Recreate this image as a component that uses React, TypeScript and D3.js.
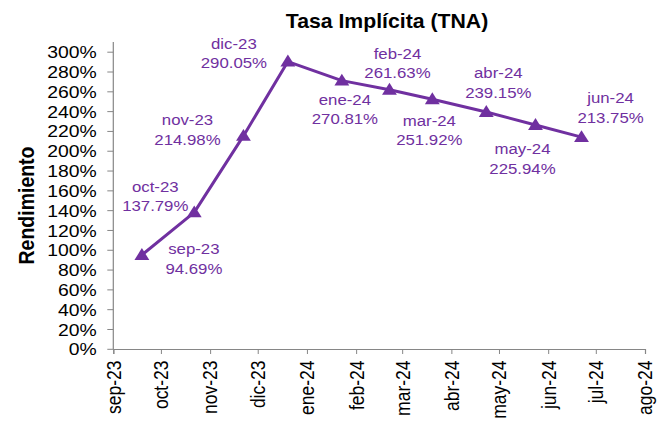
import * as d3 from 'd3';
import * as React from 'react';

// curve points (maturity date, implied rate in %)
const monthLabels = ['sep-23', 'oct-23', 'nov-23', 'dic-23', 'ene-24', 'feb-24', 'mar-24', 'abr-24', 'may-24', 'jun-24'];
const pointDates = ['2023-09-19', '2023-10-22', '2023-11-22', '2023-12-20', '2024-01-23', '2024-02-22', '2024-03-20', '2024-04-23', '2024-05-24', '2024-06-22'];
const rates = [94.69, 137.79, 214.98, 290.05, 270.81, 261.63, 251.92, 239.15, 225.94, 213.75];

const xTickLabels = ['sep-23', 'oct-23', 'nov-23', 'dic-23', 'ene-24', 'feb-24', 'mar-24', 'abr-24', 'may-24', 'jun-24', 'jul-24', 'ago-24'];
const yTicks = [0, 20, 40, 60, 80, 100, 120, 140, 160, 180, 200, 220, 240, 260, 280, 300];

// label offsets from each marker (dx, dy of first line)
const labelOffsets = [
  [52, -6], [-39, -26], [-56, -16], [-54, -18], [3, 19],
  [8, -36], [-3, 21], [12, -39], [-13, 24], [29, -39],
];

const PURPLE = '#7030a0';
const AXIS = '#868686';
const FONT = '"Liberation Sans", Arial, Helvetica, sans-serif';
const SX = 1.12; // text in the original is a bit wide

const App = () => {
  const ref = React.useRef<SVGSVGElement | null>(null);

  React.useEffect(() => {
    if (!ref.current) return;
    const svg = d3.select(ref.current);
    svg.selectAll('*').remove();

    const parse = d3.timeParse('%Y-%m-%d');
    const data = pointDates.map((d, i) => ({ date: parse(d) as Date, value: rates[i], label: monthLabels[i] }));

    const x = d3.scaleTime().domain([new Date(2023, 8, 1), new Date(2024, 7, 1)]).range([113.3, 645]);
    const y = d3.scaleLinear().domain([0, 300]).range([348.8, 51.7]);

    // title
    svg.append('text')
      .attr('transform', `translate(387,27.5) scale(1.09,1)`)
      .attr('text-anchor', 'middle')
      .style('font-family', FONT).style('font-weight', 'bold').style('font-size', '19.5px')
      .text('Tasa Implícita (TNA)');

    // y axis title
    svg.append('text')
      .attr('transform', `translate(33.5,205.5) scale(1.1,1) rotate(-90)`)
      .attr('text-anchor', 'middle')
      .style('font-family', FONT).style('font-weight', 'bold').style('font-size', '19.5px')
      .text('Rendimiento');

    const g = svg.append('g');

    // y axis
    const yAxis = g.append('g').attr('transform', 'translate(113.3,0)')
      .call(d3.axisLeft(y).tickValues(yTicks).tickSize(6).tickFormat((d) => `${d}%`));
    yAxis.select('.domain').remove();
    yAxis.selectAll('.tick line').style('stroke', AXIS);
    yAxis.selectAll('.tick text')
      .attr('x', null).attr('dy', null)
      .attr('transform', `translate(-16.5,0) scale(${SX},1)`)
      .attr('dy', '0.35em')
      .attr('text-anchor', 'end')
      .style('font-family', FONT).style('font-size', '17.3px').style('fill', '#000');
    g.append('line').attr('x1', 113.3).attr('x2', 113.3).attr('y1', 42).attr('y2', 349)
      .style('stroke', AXIS).style('stroke-width', 1.2);

    // x axis
    const tickDates = xTickLabels.map((_, i) => new Date(2023, 8 + i, 1));
    const xAxis = g.append('g').attr('transform', 'translate(0,349)')
      .call(d3.axisBottom(x).tickValues(tickDates).tickSize(5).tickFormat((_, i) => xTickLabels[i]));
    xAxis.select('.domain').style('stroke', AXIS).style('stroke-width', 1.2);
    xAxis.selectAll('.tick line').style('stroke', AXIS);
    xAxis.selectAll('.tick text')
      .attr('x', 0).attr('y', 0).attr('dy', '0.35em')
      .attr('transform', `translate(0,11.5) scale(${SX},1) rotate(-90)`)
      .attr('text-anchor', 'end')
      .style('font-family', FONT).style('font-size', '17.5px').style('fill', '#000');

    // line
    const line = d3.line<any>().x((d) => x(d.date)).y((d) => y(d.value));
    g.append('path').datum(data)
      .attr('d', line)
      .style('fill', 'none').style('stroke', PURPLE).style('stroke-width', 3).style('stroke-linejoin', 'round');

    // triangle markers
    const tri = d3.symbol().type(d3.symbolTriangle).size(82);
    g.selectAll('.marker').data(data).enter().append('path')
      .attr('class', 'marker')
      .attr('d', tri)
      .attr('transform', (d) => `translate(${x(d.date)},${y(d.value) + 1}) scale(1.08,1)`)
      .style('fill', PURPLE);

    // data labels
    const labels = g.selectAll('.lbl').data(data).enter().append('text')
      .attr('class', 'lbl')
      .attr('transform', (d, i) => `translate(${x(d.date) + labelOffsets[i][0]},${y(d.value) + labelOffsets[i][1]}) scale(${SX},1)`)
      .attr('text-anchor', 'middle')
      .style('font-family', FONT).style('font-size', '15px').style('fill', PURPLE);
    labels.append('tspan')
      .attr('x', 0).attr('y', 0).attr('dy', '0.35em')
      .text((d) => d.label);
    labels.append('tspan')
      .attr('x', 0).attr('y', 19.5).attr('dy', '0.35em')
      .text((d) => `${d.value.toFixed(2)}%`);
  }, []);

  return (
    <svg
      ref={ref}
      width={666}
      height={423}
      style={{ position: 'absolute', left: 0, top: 0, background: '#fff' }}
    />
  );
};

export default App;
